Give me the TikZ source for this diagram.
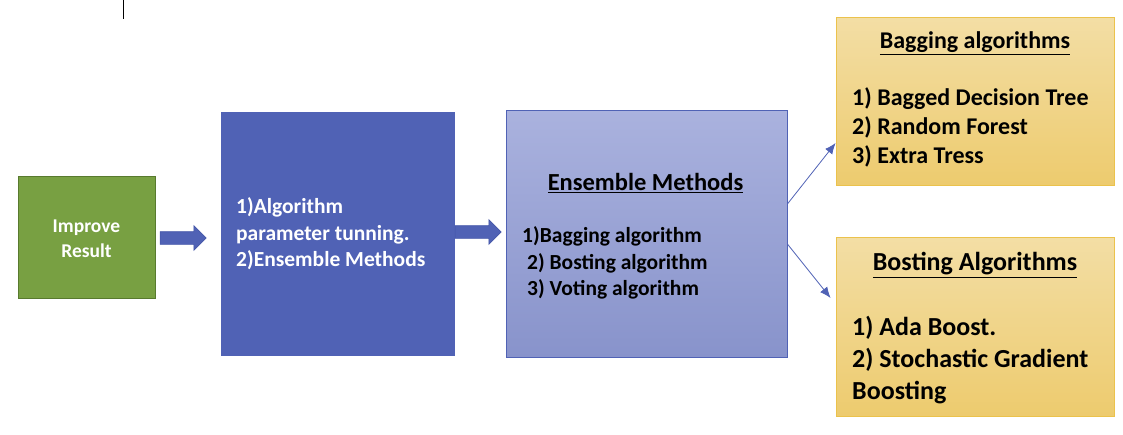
\documentclass[tikz,border=0pt]{standalone}
\usepackage{fontspec}
\setmainfont{Carlito}
\usetikzlibrary{shapes.arrows,arrows.meta}

\definecolor{leafgreen}{HTML}{78A042}
\definecolor{leafline}{HTML}{587A2E}
\definecolor{deepblue}{HTML}{5062B5}
\definecolor{deepline}{HTML}{4456A8}
\definecolor{lilactop}{HTML}{AAB2DE}
\definecolor{lilacbot}{HTML}{8893CB}
\definecolor{sandtop}{HTML}{F3DEA5}
\definecolor{sandbot}{HTML}{EDCB6E}
\definecolor{sandline}{HTML}{EBC24C}

\begin{document}
\begin{tikzpicture}[x=1pt, y=-1pt,
  every node/.style = {inner sep=0pt, font=\bfseries},
  box/.style = {shape=rectangle, draw, line width=0.8pt},
  sandbox/.style = {box, draw=sandline, top color=sandtop, bottom color=sandbot,
    minimum width=278pt},
  blockarrow/.style = {single arrow, draw=deepline, fill=deepblue, line width=0.6pt,
    inner sep=6pt, minimum height=46pt, minimum width=24pt, single arrow head extend=6pt},
  link/.style = {draw=deepblue, line width=0.8pt, -{Latex[length=11pt,width=9pt]}}]

  \useasboundingbox (0,0) rectangle (1123,434);
  \draw[line width=0.8pt] (123,0) -- (123,19);

  % boxes
  \node[box, draw=leafline, fill=leafgreen, minimum width=137pt, minimum height=122pt]
    (improve) at (86.5,237) {};
  \node[box, draw=deepblue, fill=deepblue, minimum width=233pt, minimum height=243pt]
    (tuning) at (337.5,233.5) {};
  \node[box, draw=deepblue, top color=lilactop, bottom color=lilacbot,
    minimum width=281pt, minimum height=247pt] (ensemble) at (646.5,233.5) {};
  \node[sandbox, minimum height=168pt] (bagging) at (975,101) {};
  \node[sandbox, minimum height=179pt] (boosting) at (975,326.5) {};

  % texts
  \node[text=white, align=center, font=\fontsize{19.5}{25}\selectfont\bfseries]
    at (86.5,239) {Improve\\Result};
  \node[text=white, align=left, anchor=west, font=\fontsize{21.5}{26.5}\selectfont\bfseries]
    at (236,234) {1)Algorithm\\parameter tunning.\\2)Ensemble Methods};
  \node[font=\fontsize{24.5}{30}\selectfont\bfseries] at (645.5,183)
    {\underline{Ensemble Methods}};
  \node[align=left, anchor=west, font=\fontsize{21.5}{26.5}\selectfont\bfseries]
    at (522,263) {1)Bagging algorithm\\\hspace{5pt}2) Bosting algorithm\\\hspace{5pt}3) Voting algorithm};
  \node[font=\fontsize{24}{29}\selectfont\bfseries] at (975,43)
    {\underline{Bagging algorithms}};
  \node[align=left, anchor=west, font=\fontsize{24}{29}\selectfont\bfseries]
    at (852,127) {1) Bagged Decision Tree\\2) Random Forest\\3) Extra Tress};
  \node[font=\fontsize{26}{32}\selectfont\bfseries] at (975,265)
    {\underline{Bosting Algorithms}};
  \node[align=left, anchor=west, font=\fontsize{26}{32}\selectfont\bfseries]
    at (852,360) {1) Ada Boost.\\2) Stochastic Gradient\\Boosting};

  % arrows
  \node[blockarrow] (step1) at (180,238) {};
  \node[blockarrow] (step2) at (475,232) {};
  \draw[link] ([yshift=29.5pt]ensemble.east) -- ([yshift=-42pt]bagging.west);
  \draw[link] ([yshift=-10.5pt]ensemble.east) -- ([xshift=-5pt,yshift=28.5pt]boosting.west);
\end{tikzpicture}
\end{document}
